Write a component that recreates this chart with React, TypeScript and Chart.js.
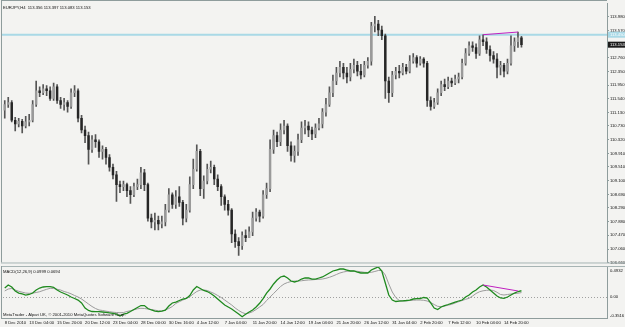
import React, { useEffect, useRef } from 'react';
import { Chart, registerables } from 'chart.js';

Chart.register(...registerables);

const SLOT_COUNT = 173;

const open = [
  111.20, 111.37, 111.43, 110.90, 110.79, 110.87, 110.73, 110.85, 110.90, 111.37,
  111.78, 111.72, 111.84, 111.78, 111.55, 111.90, 111.49, 111.37, 111.43, 111.31,
  111.72, 111.78, 110.96, 110.61, 110.44, 110.03, 110.32, 110.26, 109.97, 110.03,
  109.79, 109.50, 109.27, 108.98, 108.92, 108.98, 108.80, 108.68, 108.92, 108.98,
  109.33, 108.98, 107.98, 107.87, 107.92, 107.81, 107.87, 108.22, 108.68, 108.39,
  108.62, 108.45, 107.98, 108.22, 108.98, 109.44, 109.97, 108.86, 109.09, 109.44,
  109.50, 109.15, 108.92, 108.62, 108.39, 108.22, 107.51, 107.28, 107.16, 107.46,
  107.40, 107.57, 107.98, 108.16, 108.04, 108.68, 108.86, 110.03, 110.44, 110.26,
  110.61, 110.73, 110.14, 109.85, 109.97, 110.32, 110.67, 110.73, 110.61, 110.49,
  110.67, 110.79, 111.14, 111.37, 111.72, 112.07, 112.31, 112.48, 112.31, 112.19,
  112.42, 112.54, 112.36, 112.25, 112.54, 112.66, 113.71, 113.77, 113.59, 113.42,
  112.07, 111.72, 112.25, 112.36, 112.31, 112.48, 112.36, 112.66, 112.77, 112.60,
  112.72, 112.60, 111.49, 111.31, 111.43, 111.72, 111.96, 111.90, 112.07, 112.01,
  112.13, 112.19, 112.60, 112.89, 113.12, 113.07, 112.89, 113.30, 113.24, 113.01,
  112.83, 112.72, 112.48, 112.54, 112.36, 112.60, 113.12, 113.24, 113.36,
];

const high = [
  111.49, 111.58, 111.49, 110.99, 110.96, 110.93, 111.02, 111.08, 111.49, 112.07,
  111.90, 111.96, 111.93, 111.90, 112.01, 111.96, 111.58, 111.55, 111.49, 111.84,
  111.93, 111.84, 111.05, 110.73, 110.55, 110.44, 110.47, 110.32, 110.14, 110.09,
  109.88, 109.59, 109.38, 109.09, 109.09, 109.03, 108.92, 109.03, 109.15, 109.50,
  109.44, 109.03, 108.10, 108.13, 108.04, 108.04, 108.39, 108.86, 108.74, 108.80,
  108.92, 108.51, 108.39, 109.21, 109.74, 110.17, 110.03, 109.24, 109.59, 109.68,
  109.56, 109.27, 108.98, 108.68, 108.51, 108.27, 107.63, 107.40, 107.57, 107.63,
  107.72, 108.16, 108.27, 108.22, 108.80, 109.03, 110.32, 110.61, 110.55, 110.79,
  110.90, 110.79, 110.26, 110.14, 110.49, 110.85, 110.90, 110.85, 110.70, 110.79,
  110.96, 111.25, 111.55, 111.90, 112.25, 112.48, 112.66, 112.60, 112.48, 112.60,
  112.72, 112.66, 112.57, 112.66, 112.77, 113.82, 114.00, 113.88, 113.71, 113.47,
  112.19, 112.36, 112.48, 112.54, 112.60, 112.57, 112.83, 112.89, 112.83, 112.80,
  112.77, 112.66, 111.60, 111.55, 111.84, 112.07, 112.13, 112.19, 112.16, 112.25,
  112.31, 112.72, 113.04, 113.24, 113.24, 113.18, 113.42, 113.45, 113.36, 113.12,
  112.95, 112.89, 112.66, 112.60, 112.72, 113.42, 113.36, 113.53, 113.40,
];

const low = [
  110.96, 111.28, 110.85, 110.58, 110.70, 110.52, 110.67, 110.73, 110.85, 111.31,
  111.60, 111.66, 111.63, 111.49, 111.49, 111.40, 111.25, 111.20, 111.14, 111.25,
  111.60, 110.85, 110.52, 110.23, 109.59, 109.94, 110.09, 109.79, 109.74, 109.59,
  109.38, 109.15, 108.48, 108.74, 108.80, 108.62, 108.42, 108.62, 108.83, 108.86,
  108.80, 107.89, 107.69, 107.63, 107.63, 107.69, 107.75, 108.16, 108.27, 108.27,
  108.33, 107.78, 107.87, 108.16, 108.86, 109.38, 108.65, 108.57, 109.00, 109.33,
  108.98, 108.80, 108.36, 108.22, 108.07, 107.25, 107.11, 106.87, 107.05, 107.28,
  107.40, 107.46, 107.89, 107.87, 107.98, 108.57, 108.77, 109.91, 110.11, 110.14,
  110.49, 109.97, 109.68, 109.65, 109.85, 110.23, 110.49, 110.41, 110.32, 110.38,
  110.61, 110.67, 111.02, 111.31, 111.60, 111.96, 112.19, 112.13, 112.01, 112.07,
  112.31, 112.22, 112.13, 112.19, 112.45, 112.54, 113.53, 113.42, 113.30, 111.55,
  111.43, 111.60, 112.13, 112.16, 112.25, 112.28, 112.31, 112.60, 112.48, 112.54,
  112.48, 111.31, 111.20, 111.25, 111.37, 111.63, 111.78, 111.84, 111.90, 111.96,
  112.01, 112.13, 112.54, 112.83, 112.95, 112.74, 112.83, 113.12, 112.89, 112.66,
  112.60, 112.16, 112.25, 112.19, 112.28, 112.54, 112.95, 113.07, 113.08,
];

const close = [
  111.37, 111.43, 110.90, 110.79, 110.87, 110.73, 110.85, 110.90, 111.37, 111.78,
  111.72, 111.84, 111.78, 111.55, 111.90, 111.49, 111.37, 111.43, 111.31, 111.72,
  111.78, 110.96, 110.61, 110.44, 110.03, 110.32, 110.26, 109.97, 110.03, 109.79,
  109.50, 109.27, 108.98, 108.92, 108.98, 108.80, 108.68, 108.92, 108.98, 109.33,
  108.98, 107.98, 107.87, 107.92, 107.81, 107.87, 108.22, 108.68, 108.39, 108.62,
  108.45, 107.98, 108.22, 108.98, 109.44, 109.97, 108.86, 109.09, 109.44, 109.50,
  109.15, 108.92, 108.62, 108.39, 108.22, 107.51, 107.28, 107.16, 107.46, 107.40,
  107.57, 107.98, 108.16, 108.04, 108.68, 108.86, 110.03, 110.44, 110.26, 110.61,
  110.73, 110.14, 109.85, 109.97, 110.32, 110.67, 110.73, 110.61, 110.49, 110.67,
  110.79, 111.14, 111.37, 111.72, 112.07, 112.31, 112.48, 112.31, 112.19, 112.42,
  112.54, 112.36, 112.25, 112.54, 112.66, 113.71, 113.77, 113.59, 113.42, 112.07,
  111.72, 112.25, 112.36, 112.31, 112.48, 112.36, 112.66, 112.77, 112.60, 112.72,
  112.60, 111.49, 111.31, 111.43, 111.72, 111.96, 111.90, 112.07, 112.01, 112.13,
  112.19, 112.60, 112.89, 113.12, 113.07, 112.89, 113.30, 113.24, 113.01, 112.83,
  112.72, 112.48, 112.54, 112.36, 112.60, 113.12, 113.24, 113.36, 113.15,
];

const macdMain = [
  0.145, 0.195, 0.162, 0.096, 0.062, 0.046, 0.029, 0.038, 0.062, 0.112,
  0.145, 0.162, 0.167, 0.167, 0.157, 0.112, 0.079, 0.054, 0.029, -0.004,
  -0.029, -0.054, -0.103, -0.186, -0.227, -0.244, -0.247, -0.247, -0.252, -0.257,
  -0.266, -0.274, -0.289, -0.320, -0.289, -0.274, -0.244, -0.211, -0.178, -0.145,
  -0.145, -0.194, -0.219, -0.236, -0.247, -0.239, -0.223, -0.153, -0.103, -0.087,
  -0.062, -0.040, -0.027, 0.021, 0.112, 0.170, 0.137, 0.104, 0.087, 0.054,
  0.013, -0.037, -0.087, -0.136, -0.169, -0.203, -0.244, -0.285, -0.330, -0.290,
  -0.252, -0.219, -0.169, -0.108, -0.029, 0.062, 0.129, 0.212, 0.278, 0.328,
  0.344, 0.311, 0.261, 0.245, 0.261, 0.294, 0.311, 0.311, 0.294, 0.294,
  0.311, 0.328, 0.361, 0.394, 0.427, 0.443, 0.460, 0.460, 0.443, 0.427,
  0.427, 0.410, 0.394, 0.394, 0.394, 0.443, 0.470, 0.4932, 0.427, 0.228,
  0.029, -0.054, -0.078, -0.073, -0.067, -0.062, -0.054, -0.037, -0.030, -0.029,
  -0.012, -0.020, -0.103, -0.186, -0.211, -0.169, -0.145, -0.128, -0.108, -0.087,
  -0.070, -0.054, -0.004, 0.029, 0.079, 0.112, 0.162, 0.195, 0.162, 0.112,
  0.062, 0.013, -0.020, -0.025, -0.004, 0.029, 0.062, 0.087, 0.0999,
];

const macdSignal = [
  0.096, 0.129, 0.137, 0.112, 0.091, 0.076, 0.062, 0.057, 0.062, 0.071,
  0.084, 0.104, 0.124, 0.140, 0.137, 0.124, 0.112, 0.087, 0.071, 0.049,
  0.021, -0.004, -0.037, -0.078, -0.120, -0.161, -0.194, -0.219, -0.227, -0.239,
  -0.247, -0.256, -0.261, -0.264, -0.261, -0.244, -0.231, -0.216, -0.199, -0.191,
  -0.194, -0.203, -0.211, -0.222, -0.232, -0.236, -0.219, -0.194, -0.161, -0.111,
  -0.082, -0.054, -0.029, 0.001, 0.046, 0.087, 0.112, 0.112, 0.104, 0.079,
  0.054, 0.021, -0.012, -0.054, -0.095, -0.136, -0.186, -0.227, -0.261, -0.282,
  -0.269, -0.247, -0.211, -0.169, -0.128, -0.062, -0.004, 0.054, 0.112, 0.170,
  0.212, 0.236, 0.253, 0.261, 0.261, 0.265, 0.273, 0.278, 0.281, 0.286,
  0.289, 0.294, 0.306, 0.323, 0.344, 0.369, 0.394, 0.410, 0.422, 0.427,
  0.427, 0.422, 0.414, 0.405, 0.402, 0.405, 0.419, 0.435, 0.435, 0.361,
  0.212, 0.079, -0.012, -0.062, -0.070, -0.067, -0.062, -0.057, -0.054, -0.054,
  -0.058, -0.070, -0.095, -0.128, -0.158, -0.164, -0.153, -0.140, -0.125, -0.103,
  -0.082, -0.062, -0.042, -0.025, 0.013, 0.054, 0.084, 0.099, 0.107, 0.112,
  0.104, 0.074, 0.038, 0.029, 0.038, 0.046, 0.054, 0.059, 0.0694,
];

const priceTicks = [
  106.66, 107.06, 107.47, 107.88, 108.29, 108.69, 109.1, 109.51, 109.91, 110.32,
  110.73, 111.13, 111.54, 111.95, 112.35, 112.76, 113.17, 113.57, 113.98,
];
const macdTicks = [0.4932, 0, -0.3516];
const macdTickText = ['0.4932', '0.00', '-0.3516'];

const dateTickIdx = [0, 7, 15, 23, 31, 39, 47, 55, 63, 71, 79, 87, 95, 103, 111, 119, 127, 135, 143];
const dateTickText = [
  '8 Dec 2010', '13 Dec 04:00', '15 Dec 20:00', '20 Dec 12:00', '23 Dec 04:00', '28 Dec 00:00',
  '30 Dec 16:00', '4 Jan 12:00', '7 Jan 04:00', '11 Jan 20:00', '14 Jan 12:00', '19 Jan 04:00',
  '21 Jan 20:00', '26 Jan 12:00', '31 Jan 04:00', '2 Feb 20:00', '7 Feb 12:00', '10 Feb 04:00',
  '14 Feb 20:00',
];

const hLineLevel = 113.45;
const lastPrice = 113.153;
const trendIdx = [137, 147];
const trendPrice = [113.45, 113.53];
const trendMacd = [0.195, 0.096];

const headerText = 'EURJPY,H4  113.356 113.397 113.083 113.153';
const macdTitle = 'MACD(12,26,9) 0.0999 0.0694';
const copyrightText = 'MetaTrader - Alpari UK, \u00a9 2001-2010 MetaQuotes Software Corp.';

const FONT = 'Liberation Sans';
const BG = '#f3f3f1';
const FRAME = '#8e9c9c';
const FS = 4.2;

const labels = Array.from({ length: SLOT_COUNT }, (_, i) => {
  const k = dateTickIdx.indexOf(i);
  return k >= 0 ? dateTickText[k] : '';
});

function sparse(idx: number[], vals: number[]) {
  const arr: (number | null)[] = Array(SLOT_COUNT).fill(null);
  idx.forEach((ix, k) => { arr[ix] = vals[k]; });
  return arr;
}

export default function App() {
  const mainRef = useRef<HTMLCanvasElement>(null);
  const macdRef = useRef<HTMLCanvasElement>(null);

  useEffect(() => {
    document.body.style.margin = '0';
    Chart.defaults.font.family = FONT;

    const mainDecor = {
      id: 'mainDecor',
      beforeDraw(chart: any) {
        const { ctx, width, height } = chart;
        ctx.save();
        ctx.fillStyle = BG;
        ctx.fillRect(0, 0, width, height);
        ctx.restore();
      },
      beforeDatasetsDraw(chart: any) {
        const { ctx, chartArea: a, scales } = chart;
        const py = scales.y.getPixelForValue(hLineLevel);
        ctx.save();
        ctx.strokeStyle = '#a9d9e6';
        ctx.lineWidth = 2;
        ctx.beginPath();
        ctx.moveTo(a.left - 1, py);
        ctx.lineTo(a.right, py);
        ctx.stroke();
        ctx.restore();
      },
      afterDraw(chart: any) {
        const { ctx, chartArea: a, scales, width } = chart;
        ctx.save();
        ctx.fillStyle = FRAME;
        ctx.fillRect(1, 0, 1, a.bottom);
        ctx.fillRect(1, 0, a.right - 1, 1);
        ctx.fillStyle = '#a7b4b4';
        ctx.fillRect(1, a.bottom, width - 1, 1);
        const py = scales.y.getPixelForValue(hLineLevel);
        ctx.fillStyle = '#a9d9e6';
        ctx.fillRect(a.right + 1, py - 3, 17, 6);
        ctx.fillStyle = '#ffffff';
        ctx.font = `${FS}px "${FONT}"`;
        ctx.textBaseline = 'middle';
        ctx.textAlign = 'left';
        ctx.fillText(hLineLevel.toFixed(3), a.right + 3, py);
        const lp = scales.y.getPixelForValue(lastPrice);
        ctx.fillStyle = '#1a1a1a';
        ctx.fillRect(a.right + 1, lp - 3, 17, 6);
        ctx.fillStyle = '#ffffff';
        ctx.fillText(lastPrice.toFixed(3), a.right + 3, lp);
        ctx.fillStyle = '#111';
        ctx.fillText(headerText, 3, a.top + 4);
        ctx.restore();
      },
    };

    const main = new Chart(mainRef.current as HTMLCanvasElement, {
      type: 'bar',
      data: {
        labels,
        datasets: [
          {
            type: 'bar',
            data: low.map((l, i) => [l, high[i]]) as any,
            backgroundColor: '#555555',
            barThickness: 1,
            grouped: false,
            order: 2,
          } as any,
          {
            type: 'bar',
            data: open.map((o, i) => [o, close[i]]) as any,
            backgroundColor: open.map((o, i) => (close[i] >= o ? '#9a9a9a' : '#262626')),
            barThickness: 1.8,
            minBarLength: 1,
            grouped: false,
            order: 1,
          } as any,
          {
            type: 'line',
            data: sparse(trendIdx, trendPrice),
            borderColor: '#c020c0',
            borderWidth: 1,
            pointRadius: 0,
            spanGaps: true,
            order: 0,
          } as any,
        ],
      },
      options: {
        responsive: false,
        maintainAspectRatio: false,
        animation: false,
        events: [],
        layout: { padding: { left: 3, top: 1, right: 0, bottom: 1 } },
        plugins: { legend: { display: false }, tooltip: { enabled: false } },
        scales: {
          x: { display: false, offset: true, grid: { display: false } },
          y: {
            position: 'right',
            min: 106.66,
            max: 114.38,
            afterBuildTicks: (s: any) => { s.ticks = priceTicks.map((v) => ({ value: v })); },
            afterFit: (s: any) => { s.width = 18; },
            ticks: {
              autoSkip: false,
              padding: 1,
              color: '#111',
              font: { size: FS, family: FONT },
              callback: (v: any) => Number(v).toFixed(3),
            },
            grid: { drawOnChartArea: false, drawTicks: true, tickLength: 2, color: FRAME },
            border: { display: true, color: FRAME, width: 1 },
          },
        },
      } as any,
      plugins: [mainDecor],
    });

    const macdDecor = {
      id: 'macdDecor',
      beforeDraw(chart: any) {
        const { ctx, width, height } = chart;
        ctx.save();
        ctx.fillStyle = BG;
        ctx.fillRect(0, 0, width, height);
        ctx.restore();
      },
      beforeDatasetsDraw(chart: any) {
        const { ctx, chartArea: a, scales } = chart;
        const zy = Math.round(scales.y.getPixelForValue(0)) + 0.5;
        ctx.save();
        ctx.strokeStyle = '#a0a0a0';
        ctx.lineWidth = 1;
        ctx.setLineDash([1, 2]);
        ctx.beginPath();
        ctx.moveTo(a.left, zy);
        ctx.lineTo(a.right, zy);
        ctx.stroke();
        ctx.restore();
      },
      afterDraw(chart: any) {
        const { ctx, chartArea: a, scales, width } = chart;
        ctx.save();
        ctx.fillStyle = '#a7b4b4';
        ctx.fillRect(1, 0, width - 1, 1);
        ctx.fillStyle = FRAME;
        ctx.fillRect(1, 0, 1, a.bottom);
        ctx.fillRect(1, a.bottom, a.right - 1, 1);
        ctx.font = `${FS}px "${FONT}"`;
        ctx.textBaseline = 'middle';
        ctx.textAlign = 'left';
        ctx.fillStyle = '#111';
        macdTicks.forEach((v, k) => {
          let y = scales.y.getPixelForValue(v);
          y = Math.min(Math.max(y, a.top + 3.5), a.bottom - 2);
          ctx.fillText(macdTickText[k], a.right + 3, y);
        });
        ctx.fillText(macdTitle, 3, a.top + 4.7);
        ctx.fillText(copyrightText, 3, a.bottom - 3);
        ctx.restore();
      },
    };

    const macd = new Chart(macdRef.current as HTMLCanvasElement, {
      type: 'line',
      data: {
        labels,
        datasets: [
          {
            data: sparse(trendIdx, trendMacd),
            borderColor: '#c020c0',
            borderWidth: 1,
            pointRadius: 0,
            spanGaps: true,
            order: 0,
          },
          {
            data: macdMain,
            borderColor: '#1f8a1f',
            borderWidth: 1.3,
            pointRadius: 0,
            order: 1,
          },
          {
            data: macdSignal,
            borderColor: '#9c9c9c',
            borderWidth: 1,
            pointRadius: 0,
            order: 2,
          },
        ],
      },
      options: {
        responsive: false,
        maintainAspectRatio: false,
        animation: false,
        events: [],
        layout: { padding: { left: 3, top: 1, right: 0, bottom: 0 } },
        plugins: { legend: { display: false }, tooltip: { enabled: false } },
        scales: {
          x: {
            offset: true,
            grid: { display: false, drawTicks: false },
            border: { display: false },
            afterFit: (s: any) => { s.height = 9; },
            ticks: {
              autoSkip: false,
              maxRotation: 0,
              minRotation: 0,
              align: 'start',
              padding: 2,
              color: '#111',
              font: { size: FS, family: FONT },
            },
          },
          y: {
            position: 'right',
            min: -0.3516,
            max: 0.4932,
            afterFit: (s: any) => { s.width = 18; },
            ticks: { display: false },
            grid: { display: false },
            border: { display: true, color: FRAME, width: 1 },
          },
        },
      } as any,
      plugins: [macdDecor],
    });

    return () => {
      main.destroy();
      macd.destroy();
    };
  }, []);

  return (
    <div style={{ position: 'absolute', left: 0, top: 0, width: 625, height: 327, background: BG }}>
      <canvas ref={mainRef} width={625} height={266} style={{ display: 'block', width: 625, height: 266 }} />
      <canvas ref={macdRef} width={625} height={61} style={{ display: 'block', width: 625, height: 61 }} />
    </div>
  );
}
